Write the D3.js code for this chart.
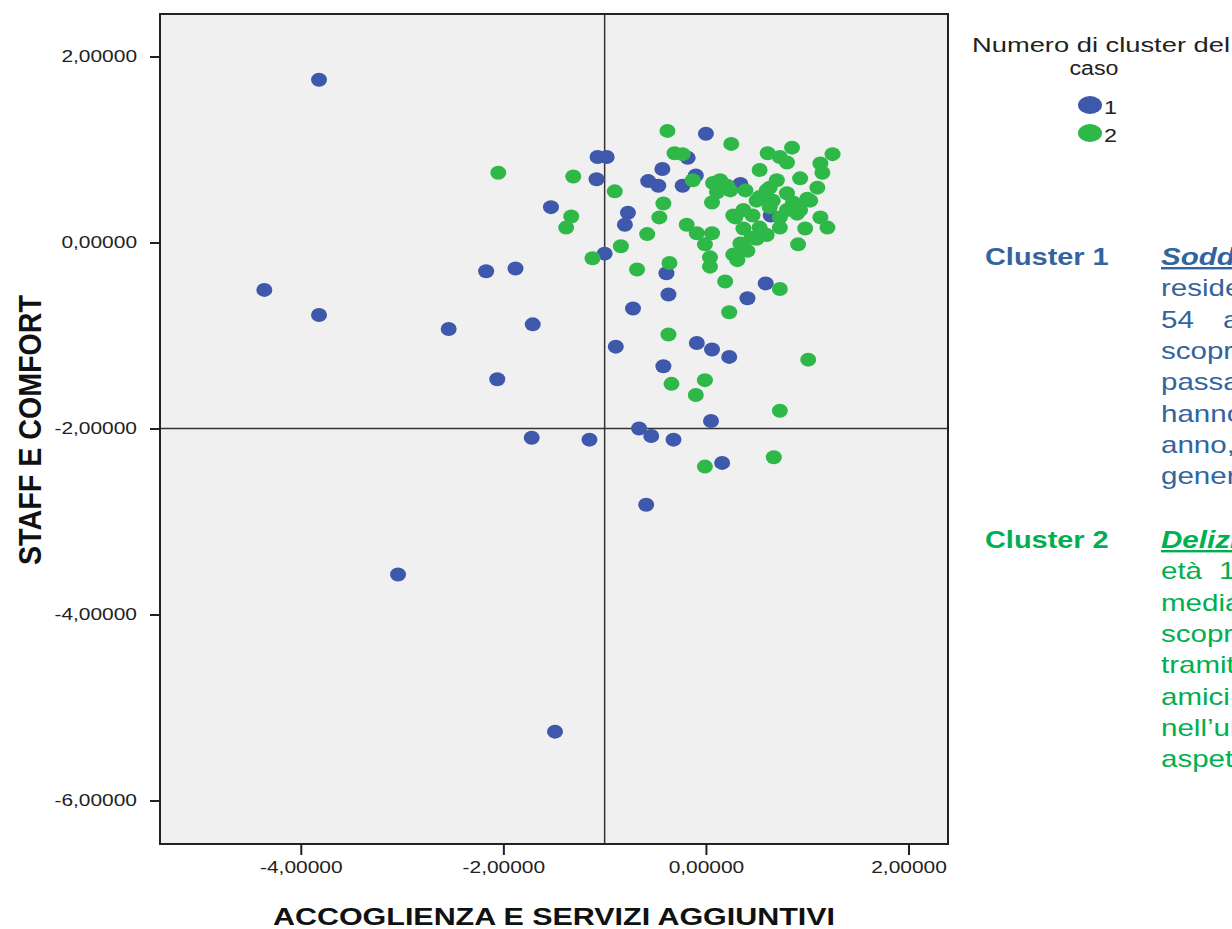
<!DOCTYPE html>
<html>
<head>
<meta charset="UTF-8">
<title>Cluster plot</title>
<script src="https://cdnjs.cloudflare.com/ajax/libs/d3/7.8.5/d3.min.js"></script>
<style>
  body { margin: 0; background: #fff; overflow: hidden; }
  svg { display: block; font-family: "Liberation Sans", Arial, sans-serif; }
</style>
</head>
<body>
<svg id="chart" width="1232" height="929"></svg>
<script>
// case scores: [accoglienza e servizi aggiuntivi, staff e comfort]
var cluster1 = [
  [-3.82, 1.75], [-4.36, -0.51], [-3.82, -0.78], [-2.54, -0.93], [-2.17, -0.31],
  [-1.88, -0.28], [-1.53, 0.38], [-1.71, -0.88], [-2.06, -1.47], [-1.72, -2.10],
  [-1.15, -2.12], [-3.04, -3.57], [-1.49, -5.26], [-1.07, 0.92], [-0.98, 0.92],
  [-1.08, 0.68], [-1.00, -0.12], [-0.77, 0.32], [-0.80, 0.19], [-0.57, 0.66],
  [-0.47, 0.61], [-0.43, 0.79], [-0.18, 0.91], [-0.23, 0.61], [-0.10, 0.72],
  [0.00, 1.17], [-0.39, -0.33], [-0.37, -0.56], [0.34, 0.63], [0.64, 0.29],
  [0.59, -0.44], [0.41, -0.60], [-0.72, -0.71], [-0.89, -1.12], [-0.09, -1.08],
  [0.06, -1.15], [0.23, -1.23], [-0.42, -1.33], [0.05, -1.92], [-0.66, -2.00],
  [-0.54, -2.08], [-0.32, -2.12], [0.16, -2.37], [-0.59, -2.82]
];
var cluster2 = [
  [-2.05, 0.75], [-1.31, 0.71], [-1.33, 0.28], [-1.38, 0.16], [-1.12, -0.17],
  [-0.90, 0.55], [-0.38, 1.20], [0.25, 1.06], [-0.31, 0.96], [-0.23, 0.95],
  [-0.13, 0.67], [0.07, 0.64], [0.14, 0.67], [0.24, 0.56], [0.06, 0.43],
  [-0.42, 0.42], [-0.46, 0.27], [-0.58, 0.09], [-0.84, -0.04], [-0.68, -0.29],
  [-0.36, -0.22], [-0.19, 0.19], [-0.09, 0.10], [0.06, 0.10], [-0.01, -0.02],
  [0.04, -0.16], [0.04, -0.26], [0.19, -0.42], [0.73, -0.50], [0.27, -0.13],
  [0.39, 0.56], [0.27, 0.29], [0.37, 0.35], [0.37, 0.15], [0.45, 0.05],
  [0.34, -0.01], [0.53, 0.16], [0.60, 0.56], [0.53, 0.78], [0.61, 0.96],
  [0.73, 0.92], [0.85, 1.02], [0.80, 0.86], [0.93, 0.69], [1.25, 0.95],
  [1.13, 0.85], [1.15, 0.75], [1.10, 0.59], [1.00, 0.47], [0.86, 0.43],
  [0.80, 0.35], [0.90, 0.31], [0.73, 0.27], [0.63, 0.38], [0.80, 0.53],
  [0.70, 0.67], [0.66, 0.45], [0.50, 0.45], [0.46, 0.29], [0.60, 0.08],
  [0.73, 0.16], [0.98, 0.15], [1.13, 0.27], [1.20, 0.16], [0.91, -0.02],
  [0.41, -0.09], [0.31, -0.19], [0.11, 0.54], [0.29, 0.27], [0.21, 0.61],
  [0.53, 0.49], [1.03, 0.45], [0.63, 0.59], [0.93, 0.35], [0.56, 0.10],
  [0.50, 0.04], [0.23, -0.75], [-0.37, -0.99], [1.01, -1.26], [-0.34, -1.52],
  [-0.01, -1.48], [-0.10, -1.64], [0.73, -1.81], [0.67, -2.31], [-0.01, -2.41]
];
var clusterNames = ["1", "2"];
var clusterColors = ["#3e58ac", "#2eb848"];
var xTicks = [-4, -2, 0, 2];
var yTicks = [2, 0, -2, -4, -6];
var refX = -1;
var refY = -2;
var legendTitle = ["Numero di cluster del", "caso"];
var note1 = ["Soddisfatti", "residenti", "54", "scoprono", "passaparola", "hanno", "anno,", "generale"];
var note2 = ["Deliziati", "età", "media", "scoprono", "tramite", "amici,", "nell’ultimo", "aspetti"];

var SX = 1.23; // the picture is stretched sideways
var svg = d3.select("#chart");
var pl = 160, pr = 948, pt = 14, pb = 844;

var x = d3.scaleLinear().domain([-5.39, 2.39]).range([pl, pr]);
var y = d3.scaleLinear().domain([-6.468, 2.457]).range([pb, pt]);
var fmt = v => v.toFixed(5).replace(".", ",");

function stretch(sel, k) {
  sel.each(function () {
    var w = this.getComputedTextLength();
    d3.select(this).attr("textLength", w * k).attr("lengthAdjust", "spacingAndGlyphs");
  });
}

svg.append("rect")
  .attr("x", pl).attr("y", pt)
  .attr("width", pr - pl).attr("height", pb - pt)
  .style("fill", "#f0f0f0");

// reference lines
svg.append("line")
  .attr("x1", x(refX)).attr("x2", x(refX))
  .attr("y1", pt).attr("y2", pb)
  .style("stroke", "#333").style("stroke-width", 1.5);
svg.append("line")
  .attr("x1", pl).attr("x2", pr)
  .attr("y1", y(refY)).attr("y2", y(refY))
  .style("stroke", "#333").style("stroke-width", 1.5);

// points
svg.append("g").selectAll("ellipse")
  .data(cluster1).enter().append("ellipse")
  .attr("cx", d => x(d[0])).attr("cy", d => y(d[1]))
  .attr("rx", 8).attr("ry", 7)
  .style("fill", clusterColors[0]);
svg.append("g").selectAll("ellipse")
  .data(cluster2).enter().append("ellipse")
  .attr("cx", d => x(d[0])).attr("cy", d => y(d[1]))
  .attr("rx", 8).attr("ry", 7)
  .style("fill", clusterColors[1]);

// frame
svg.append("rect")
  .attr("x", pl).attr("y", pt)
  .attr("width", pr - pl).attr("height", pb - pt)
  .style("fill", "none").style("stroke", "#222").style("stroke-width", 2);

// axes
var xAxis = svg.append("g")
  .attr("transform", `translate(0,${pb})`)
  .call(d3.axisBottom(x).tickValues(xTicks).tickFormat(fmt).tickSize(11).tickPadding(6).tickSizeOuter(0));
var yAxis = svg.append("g")
  .attr("transform", `translate(${pl},0)`)
  .call(d3.axisLeft(y).tickValues(yTicks).tickFormat(fmt).tickSize(10).tickPadding(13).tickSizeOuter(0));
[xAxis, yAxis].forEach(g => {
  g.select(".domain").remove();
  g.selectAll(".tick line").style("stroke", "#222").style("stroke-width", 2);
  g.selectAll(".tick text")
    .style("font-family", "'Liberation Sans', Arial, sans-serif")
    .style("font-size", "17px").style("fill", "#222");
  stretch(g.selectAll(".tick text"), SX);
});

// axis titles
svg.append("text")
  .attr("x", (pl + pr) / 2).attr("y", 925)
  .attr("text-anchor", "middle")
  .attr("textLength", 562).attr("lengthAdjust", "spacingAndGlyphs")
  .style("font-size", "24px").style("font-weight", "bold").style("fill", "#111")
  .text("ACCOGLIENZA E SERVIZI AGGIUNTIVI");
svg.append("text")
  .attr("transform", `translate(41,430) scale(${SX},1) rotate(-90)`)
  .attr("text-anchor", "middle")
  .attr("textLength", 270).attr("lengthAdjust", "spacingAndGlyphs")
  .style("font-size", "26px").style("font-weight", "bold").style("fill", "#111")
  .text("STAFF E COMFORT");

// legend
svg.append("text")
  .attr("x", 1101).attr("y", 52).attr("text-anchor", "middle")
  .attr("textLength", 258).attr("lengthAdjust", "spacingAndGlyphs")
  .style("font-size", "20px").style("fill", "#222")
  .text(legendTitle[0]);
svg.append("text")
  .attr("x", 1094).attr("y", 75).attr("text-anchor", "middle")
  .attr("textLength", 49).attr("lengthAdjust", "spacingAndGlyphs")
  .style("font-size", "20px").style("fill", "#222")
  .text(legendTitle[1]);
var leg = svg.append("g").selectAll("g")
  .data(clusterNames).enter().append("g")
  .attr("transform", (d, i) => `translate(1090,${105 + i * 28})`);
leg.append("ellipse").attr("rx", 12).attr("ry", 9)
  .style("fill", (d, i) => clusterColors[i]);
leg.append("text").attr("x", 14).attr("y", 9)
  .style("font-size", "19px").style("fill", "#222")
  .text(d => d);
stretch(leg.selectAll("text"), SX);

// cluster descriptions (run off the right edge like the slide)
function block(label, lines, color, y0, step) {
  var t = svg.append("text")
    .attr("x", 985).attr("y", y0)
    .style("font-size", "23.5px").style("font-weight", "bold").style("fill", color)
    .text(label);
  stretch(t, SX);
  lines.forEach((s, i) => {
    var tx = svg.append("text")
      .attr("x", 1161).attr("y", y0 + i * step)
      .style("font-size", "24px").style("fill", color)
      .text(s);
    if (i === 0) tx.style("font-weight", "bold").style("font-style", "italic").style("text-decoration", "underline");
    stretch(tx, SX);
  });
}
var step = 31.3;
block("Cluster 1", note1, "#34649e", 265, step);
block("Cluster 2", note2, "#00b050", 548, step);
// justified lines leave a wide gap before the next word
var extra = [["anni", 1223, 265 + 2 * step, "#34649e"], ["18-34", 1219, 548 + step, "#00b050"]];
extra.forEach(e => {
  var t = svg.append("text").attr("x", e[1]).attr("y", e[2])
    .style("font-size", "24px").style("fill", e[3]).text(e[0]);
  stretch(t, SX);
});
</script>
</body>
</html>
